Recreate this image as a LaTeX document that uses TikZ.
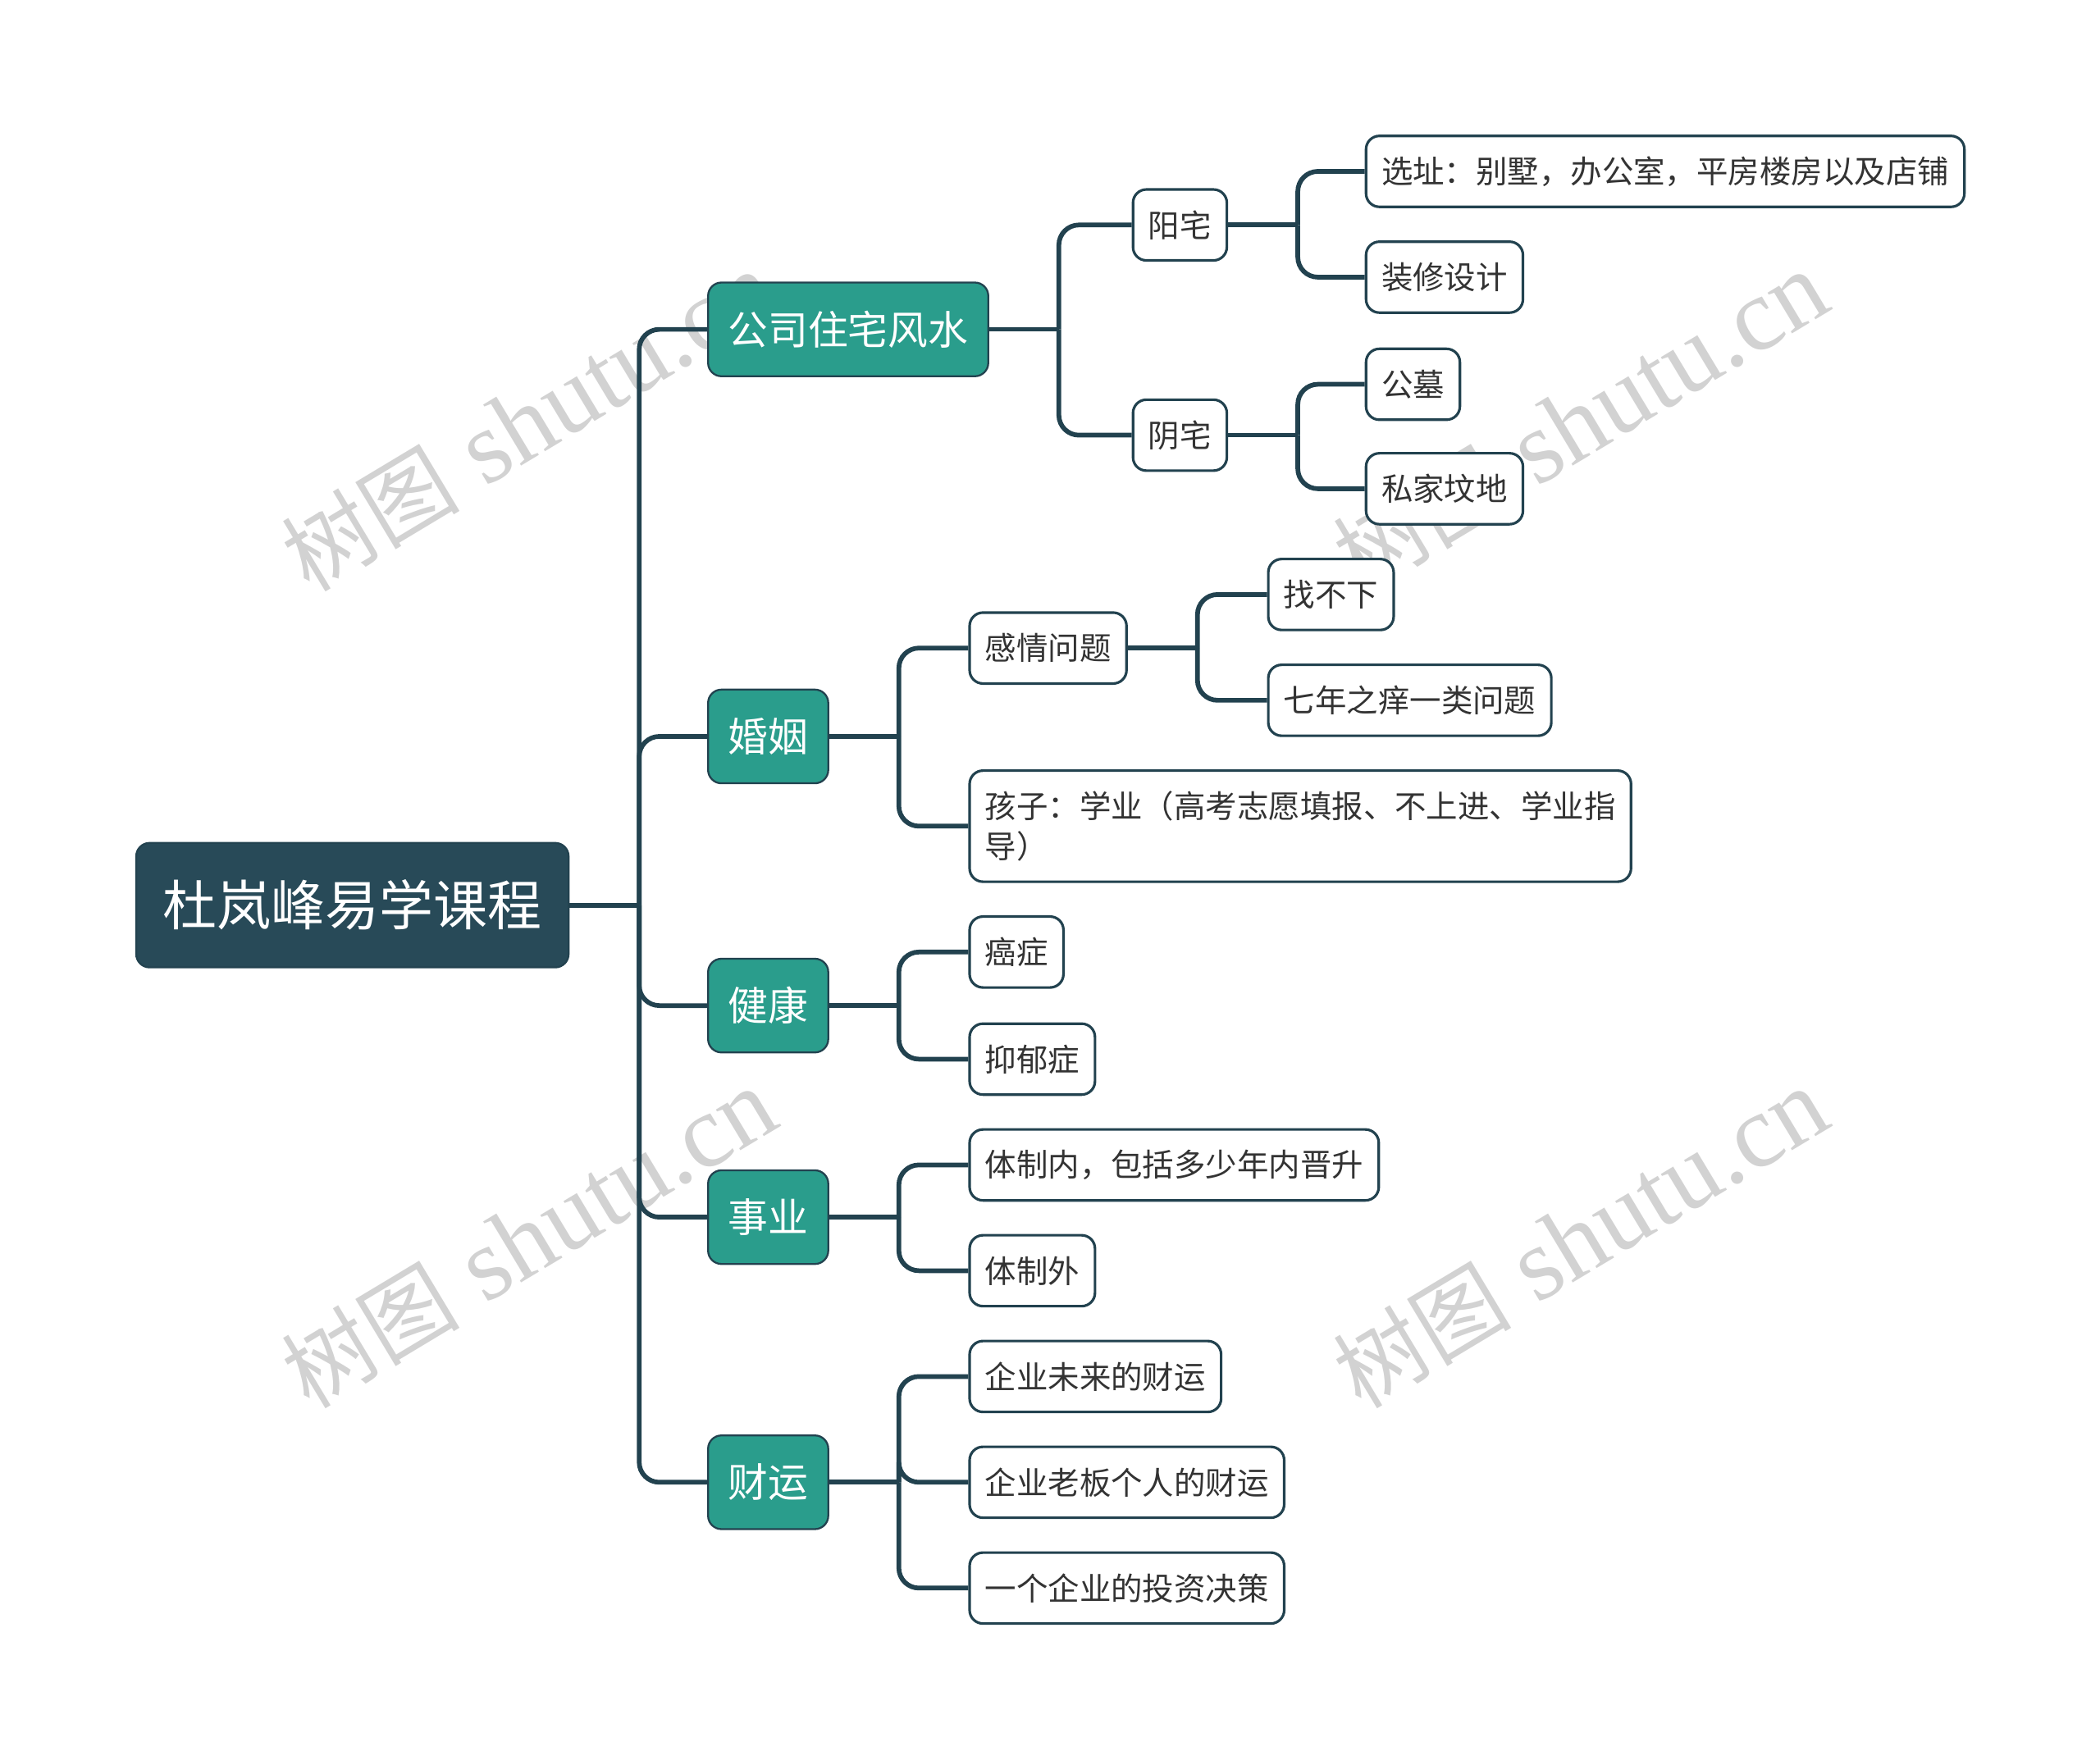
\documentclass[tikz,border=0pt]{standalone}
\usepackage{fontspec}
\usetikzlibrary{calc}
\newfontfamily\cjk{Noto Sans CJK SC}
\newfontfamily\wmfont{Liberation Serif}
\definecolor{rootc}{HTML}{284A58}
\definecolor{tealc}{HTML}{2A9D8C}
\definecolor{linec}{HTML}{22424F}
\definecolor{textc}{HTML}{333333}
\definecolor{wmc}{HTML}{D2D2D2}
\tikzset{
  rootbox/.style={anchor=west, draw=linec, fill=rootc, text=white, line width=0.8pt,
    rounded corners=0.2cm, minimum height=1.86cm, inner xsep=0.4cm,
    font=\cjk\fontsize{23}{27}\selectfont},
  topic/.style={anchor=west, draw=linec, fill=tealc, text=white, line width=0.8pt,
    rounded corners=0.2cm, minimum height=1.4cm, inner xsep=0.3cm,
    font=\cjk\fontsize{17}{20}\selectfont},
  leaf/.style={anchor=west, draw=linec, fill=white, text=textc, line width=1.1pt,
    rounded corners=0.2cm, minimum height=1.06cm, inner xsep=0.23cm,
    font=\cjk\fontsize{13.4}{17.1}\selectfont},
  link/.style={draw=linec, line width=2pt, rounded corners=0.3cm},
  wmark/.style={rotate=31, text=wmc, font=\wmfont\fontsize{44}{44}\selectfont}
}
\begin{document}
\begin{tikzpicture}[x=0.02cm,y=-0.02cm]
\useasboundingbox (0,0) rectangle (1568,1314);
\foreach \w [count=\i] in {(395,315),(1180,315),(395,925),(1180,925)}
  \node[wmark] (wm\i) at \w {{\cjk\fontsize{38}{38}\selectfont 树图} shutu.cn};
\node[rootbox] (R) at (101,676) {杜岚峰易学课程};
\node[topic] (A) at (528,246) {公司住宅风水};
\node[topic] (B) at (528,550) {婚姻};
\node[topic] (C) at (528,751) {健康};
\node[topic] (D) at (528,909) {事业};
\node[topic] (E) at (528,1107) {财运};
\node[leaf] (A1) at (845,168) {阳宅};
\node[leaf] (A2) at (845,325) {阴宅};
\node[leaf] (A11) at (1019,128) {选址：别墅，办公室，平房楼房以及店铺};
\node[leaf] (A12) at (1019,207) {装修设计};
\node[leaf] (A21) at (1019,287) {公墓};
\node[leaf] (A22) at (1019,365) {私家坟地};
\node[leaf] (B1) at (723,484) {感情问题};
\node[leaf] (B11) at (946,444) {找不下};
\node[leaf] (B12) at (946,523) {七年之痒一类问题};
\node[leaf, align=left, minimum height=1.66cm] (B2) at (723,617) {孩子：学业（高考志愿填报、不上进、学业指\\导）};
\node[leaf] (C1) at (723,711) {癌症};
\node[leaf] (C2) at (723,791) {抑郁症};
\node[leaf] (D1) at (723,870) {体制内，包括多少年内晋升};
\node[leaf] (D2) at (723,949) {体制外};
\node[leaf] (E1) at (723,1028) {企业未来的财运};
\node[leaf] (E2) at (723,1107) {企业老板个人的财运};
\node[leaf] (E3) at (723,1186) {一个企业的投资决策};
\foreach \p/\kids in {R/{A,B,C,D,E}, A/{A1,A2}, A1/{A11,A12}, A2/{A21,A22},
    B/{B1,B2}, B1/{B11,B12}, C/{C1,C2}, D/{D1,D2}, E/{E1,E2,E3}} {
  \coordinate (j\p) at ($(\p.east)+(52,0)$);
  \draw[link] (\p.east) -- (j\p);
  \foreach \c in \kids
    \draw[link] (j\p) |- (\c.west);
}
\end{tikzpicture}
\end{document}
